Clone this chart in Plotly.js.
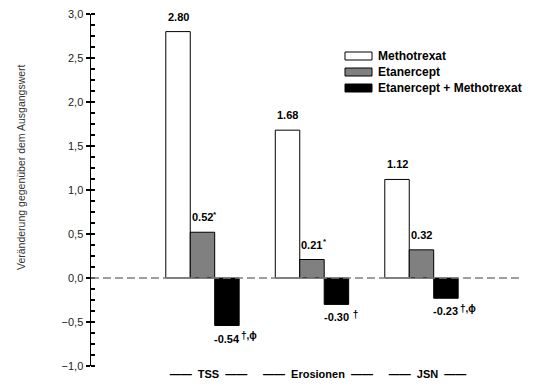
<!DOCTYPE html>
<html>
<head>
<meta charset="utf-8">
<script src="https://cdn.plot.ly/plotly-3.0.1.min.js"></script>
<style>html,body{margin:0;padding:0;background:#fff;}#chart{width:538px;height:388px;}</style>
</head>
<body>
<div id="chart"></div>
<script>
// ---- data ----
const categories = ["TSS", "Erosionen", "JSN"];
const seriesNames = ["Methotrexat", "Etanercept", "Etanercept + Methotrexat"];
const methotrexat = [2.80, 1.68, 1.12];
const etanercept = [0.52, 0.21, 0.32];
const etaMtx = [-0.54, -0.30, -0.23];
const labelsMtx = ["2.80", "1.68", "1.12"];
const labelsEta = ["0.52", "0.21", "0.32"];
const labelsEtaMtx = ["-0.54", "-0.30", "-0.23"];
const suffixMtx = ["", "", ""];
const suffixEta = ["*", "*", ""];
const suffixEtaMtx = ["\u2020,\u03d5", " \u2020", "\u2020,\u03d5"];
const yTitle = "Veränderung gegenüber dem Ausgangswert";

// ---- layout constants ----
const W = 538, H = 388;
const M = {l: 91, r: 16, t: 14, b: 22};
const PW = W - M.l - M.r, PH = H - M.t - M.b;
const px2x = p => (p - M.l) / PW;
const py2y = p => 1 - (p - M.t) / PH;
const bargap = 0.33;
const bw = (1 - bargap) / 3;
const fills = ["#ffffff", "#808080", "#000000"];
const xIdx = categories.map((c, i) => i);
const FONT = "Arial, Liberation Sans, sans-serif";

const allVals = [methotrexat, etanercept, etaMtx];
const allLabels = [labelsMtx, labelsEta, labelsEtaMtx];
const allSuffix = [suffixMtx, suffixEta, suffixEtaMtx];

const traces = allVals.map((vals, s) => ({
  type: "bar",
  x: xIdx,
  y: vals,
  name: seriesNames[s],
  marker: {color: fills[s], line: {color: "#000", width: 1}},
  hoverinfo: "none",
  showlegend: false
}));

const annotations = [];
allVals.forEach((vals, s) => {
  vals.forEach((v, i) => {
    const xc = i + (s - 1) * bw;
    const pos = v >= 0;
    const lab = allLabels[s][i];
    annotations.push({
      x: xc, y: v, xref: "x", yref: "y",
      text: "<b>" + lab + "</b>",
      showarrow: false, xanchor: "center", yanchor: "middle",
      yshift: pos ? 15 : -13,
      font: {family: FONT, size: 11, color: "#000"}
    });
    const suf = allSuffix[s][i];
    if (suf) {
      annotations.push({
        x: xc, y: v, xref: "x", yref: "y",
        text: "<b>" + suf + "</b>",
        showarrow: false, xanchor: "left", yanchor: "middle",
        xshift: lab.length * 3 - 3,
        yshift: (pos ? 15 : -13) + 3,
        font: {family: FONT, size: pos ? 8 : 10, color: "#000"}
      });
    }
  });
});

// y-axis title
annotations.push({
  xref: "paper", yref: "paper", x: px2x(21), y: py2y(167),
  text: yTitle, textangle: -90, showarrow: false,
  xanchor: "center", yanchor: "middle",
  font: {family: FONT, size: 10.5, color: "#333"}
});

// custom legend
const shapes = [];
const legTop = [52, 68, 84];
seriesNames.forEach((n, s) => {
  shapes.push({
    type: "rect", xref: "paper", yref: "paper",
    x0: px2x(345), x1: px2x(372), y0: py2y(legTop[s]), y1: py2y(legTop[s] + 8),
    fillcolor: fills[s], line: {color: "#000", width: 1}
  });
  annotations.push({
    xref: "paper", yref: "paper", x: px2x(376), y: py2y(legTop[s] + 4),
    text: "<b>" + n + "</b>", showarrow: false, xanchor: "left", yanchor: "middle",
    font: {family: FONT, size: 12, color: "#000"}
  });
});

// dashed zero line
shapes.push({
  type: "line", xref: "paper", yref: "y", x0: 0, x1: 1, y0: 0, y1: 0,
  line: {color: "#808080", width: 1.5, dash: "8px,4px"}, layer: "above"
});

const layout = {
  width: W, height: H,
  margin: M,
  paper_bgcolor: "#fff", plot_bgcolor: "#fff",
  barmode: "group", bargap: bargap, bargroupgap: 0,
  separators: ",.",
  xaxis: {
    range: [-1.018, 2.918],
    tickvals: xIdx,
    ticktext: categories.map(c => "<b>——  " + c + "  ——</b>"),
    ticklabelshift: 6,
    showline: false, showgrid: false, zeroline: false, ticks: "",
    tickfont: {family: FONT, size: 11, color: "#000"}
  },
  yaxis: {
    range: [-1, 3],
    tickmode: "linear", tick0: 0, dtick: 0.5,
    tickformat: ".1f",
    showline: true, linecolor: "#000", linewidth: 1.5,
    showgrid: false, zeroline: false,
    ticks: "outside", ticklen: 4, tickcolor: "#000", tickwidth: 1.2,
    minor: {dtick: 0.125, ticks: "inside", ticklen: 4, tickcolor: "#000", tickwidth: 1.2, showgrid: false},
    tickfont: {family: FONT, size: 11, color: "#222"}
  },
  shapes: shapes,
  annotations: annotations,
  font: {family: FONT}
};

Plotly.newPlot("chart", traces, layout, {staticPlot: true});
</script>
</body>
</html>
